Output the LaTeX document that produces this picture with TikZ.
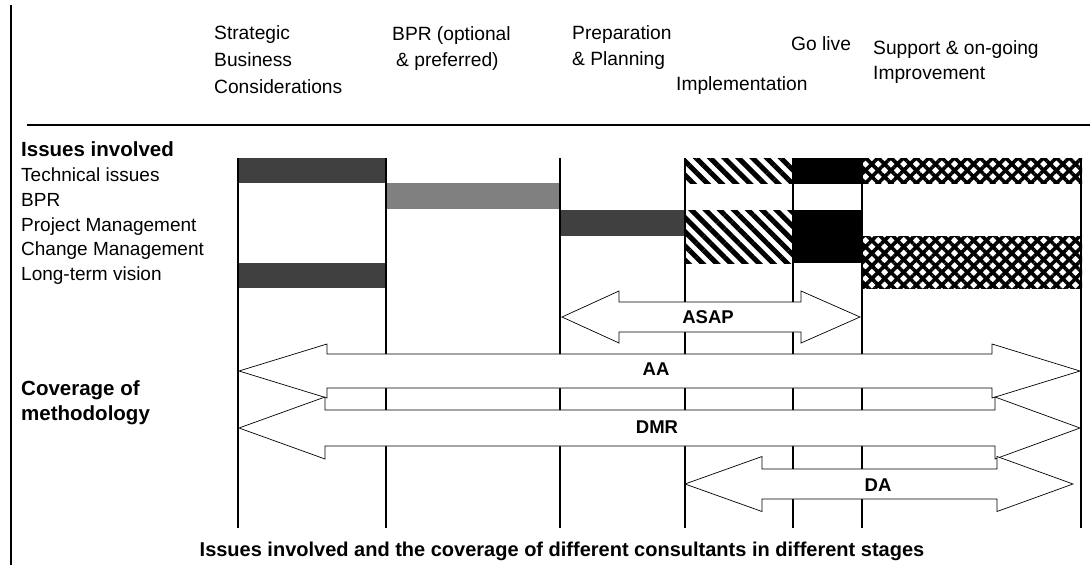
\documentclass[tikz,border=0pt]{standalone}
\usepackage{fontspec}
\setmainfont{Liberation Sans}
\usetikzlibrary{patterns.meta}
\definecolor{bardark}{gray}{0.25}
\definecolor{barmid}{gray}{0.5}
\newcommand\dblarr[7]{%
  \draw[arrowbox] (#1,#5) -- (#2,#5-#7) -- (#2,#5-#6) -- (#3,#5-#6) -- (#3,#5-#7)
    -- (#4,#5) -- (#3,#5+#7) -- (#3,#5+#6) -- (#2,#5+#6) -- (#2,#5+#7) -- cycle;}
\begin{document}
\begin{tikzpicture}[x=1pt,y=-1pt,
  hdr/.style={anchor=base west,inner sep=0pt,font=\fontsize{19.2}{21}\selectfont},
  lbl/.style={anchor=base west,inner sep=0pt,font=\fontsize{19}{21}\selectfont},
  blbl/.style={lbl,font=\fontsize{20.5}{22}\selectfont\bfseries},
  arrlbl/.style={inner sep=0pt,font=\fontsize{18.5}{20}\selectfont\bfseries},
  stage/.style={line width=1.4pt},
  arrowbox/.style={draw=black,line width=0.7pt,fill=white,line join=miter},
  hatchA/.style={pattern={Lines[angle=-45,distance=10pt,line width=5pt]}},
  hatchB/.style={pattern={Hatch[angle=45,distance=9pt,line width=3.6pt]}}]
\useasboundingbox (0,0) rectangle (1090,565);
\fill[white] (0,0) rectangle (1090,565);
% frame lines
\draw[line width=1.2pt] (11,5) -- (11,565);
\draw[line width=1.8pt] (27,125) -- (1090,125);
% header
\node[hdr] (h1a) at (214,39) {Strategic};
\node[hdr] (h1b) at (214,66) {Business};
\node[hdr] (h1c) at (214,93) {Considerations};
\node[hdr] (h2a) at (392,40) {BPR (optional};
\node[hdr] (h2b) at (396,66) {\& preferred)};
\node[hdr] (h3a) at (572,39) {Preparation};
\node[hdr] (h3b) at (572,65) {\& Planning};
\node[hdr] (h4) at (676,90) {Implementation};
\node[hdr] (h5) at (791,50) {Go live};
\node[hdr] (h6a) at (873,54) {Support \& on-going};
\node[hdr] (h6b) at (873,79) {Improvement};
% left labels
\node[blbl] (iss) at (21,156) {Issues involved};
\node[lbl] (r1) at (21,181) {Technical issues};
\node[lbl] (r2) at (21,206) {BPR};
\node[lbl] (r3) at (21,231) {Project Management};
\node[lbl] (r4) at (21,255.5) {Change Management};
\node[lbl] (r5) at (21,280) {Long-term vision};
\node[blbl] (cov1) at (21,395) {Coverage of};
\node[blbl] (cov2) at (21,420) {methodology};
% bars
\fill[bardark] (238,158) rectangle (386,183);
\fill[bardark] (238,263) rectangle (386,288);
\fill[barmid] (386,183) rectangle (560,209);
\fill[bardark] (560,210) rectangle (685,236);
\fill[hatchA] (685,158) rectangle (793,183);
\fill[hatchA] (685,210) rectangle (793,263);
\fill[black] (793,158) rectangle (862,183);
\fill[black] (793,210) rectangle (862,263);
\draw[line width=0.8pt] (793,183) -- (862,183) (793,210) -- (862,210);
\fill[hatchB] (862,158) rectangle (1082,183);
\fill[hatchB] (862,236) rectangle (1082,288);
% stage lines
\foreach \xx in {238,386,560,685,793,862,1081}
  \draw[stage] (\xx,158) -- (\xx,528);
% coverage arrows
\dblarr{562}{619}{801}{860}{317}{15}{26}
\dblarr{239}{327}{992}{1080}{371}{17}{27}
\dblarr{239}{325}{995}{1080}{428}{18}{31}
\dblarr{685}{762}{997}{1073}{484}{15}{27.5}
\node[arrlbl] (asap) at (708,317) {ASAP};
\node[arrlbl] (aa) at (656,369) {AA};
\node[arrlbl] (dmr) at (657,427) {DMR};
\node[arrlbl] (da) at (878,485) {DA};
% caption
\node[anchor=base,inner sep=0pt,font=\fontsize{20}{22}\selectfont\bfseries] (cap) at (562,556)
  {Issues involved and the coverage of different consultants in different stages};
\end{tikzpicture}
\end{document}
